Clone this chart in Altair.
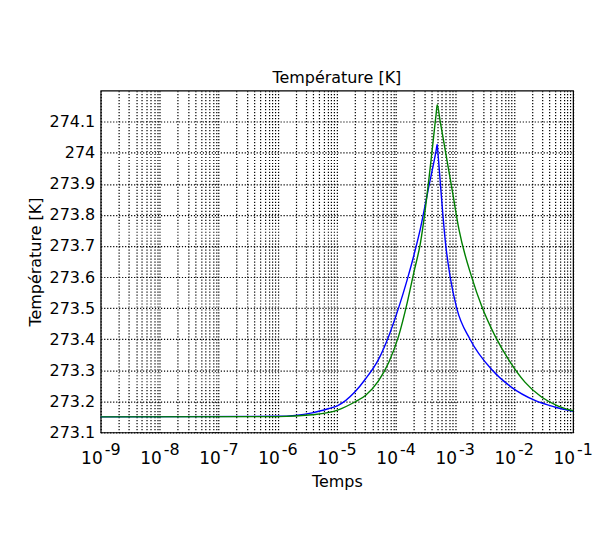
import altair as alt
import pandas as pd

# ---- data ----
blue_t = [1e-9, 1e-6, 3.83e-6, 7.3e-6, 1.05e-5, 2.01e-5, 3.05e-5, 5.1e-5, 7.55e-5, 1.11e-4,
          1.55e-4, 2.0e-4, 2.59e-4, 3.55e-4, 4.8e-4, 5.0e-4, 5.1e-4, 7.0e-4, 8.3e-4,
          1.07e-3, 1.8e-3, 4.3e-3, 9.1e-3, 2.26e-2, 4.9e-2, 1e-1]
blue_T = [273.15, 273.152, 273.163, 273.177, 273.187, 273.23, 273.272, 273.336, 273.41, 273.501,
          273.591, 273.668, 273.755, 273.885, 274.008, 274.027, 274.008, 273.7, 273.6,
          273.5, 273.4, 273.3, 273.245, 273.203, 273.182, 273.168]

green_t = [1e-9, 1e-6, 3.8e-6, 1e-5, 2.01e-5, 3.05e-5, 5.1e-5, 7.55e-5, 1.11e-4, 1.55e-4,
           2.0e-4, 2.59e-4, 4.8e-4, 5.0e-4, 5.6e-4, 7.0e-4, 9.0e-4, 1.175e-3, 1.92e-3,
           2.84e-3, 4.79e-3, 8.0e-3, 1.53e-2, 2.92e-2, 5.6e-2, 1e-1]
green_T = [273.15, 273.151, 273.157, 273.171, 273.198, 273.219, 273.267, 273.325, 273.41, 273.517,
           273.613, 273.708, 274.125, 274.155, 274.103, 273.997, 273.878, 273.751, 273.6,
           273.506, 273.41, 273.336, 273.262, 273.214, 273.185, 273.17]

series_names = ["blue", "green"]
series_colors = ["#0000ff", "#008000"]

decade_exponents = [-9, -8, -7, -6, -5, -4, -3, -2, -1]
minor_factors = [2, 3, 4, 5, 6, 7, 8, 9]
y_ticks = [273.1, 273.2, 273.3, 273.4, 273.5, 273.6, 273.7, 273.8, 273.9, 274.0, 274.1]

chart_title = "Température [K]"
x_title = "Temps"
y_title = "Température [K]"

FONT = "DejaVu Sans"
W, H = 474, 343

df = pd.DataFrame({
    "t": blue_t + green_t,
    "T": blue_T + green_T,
    "s": [series_names[0]] * len(blue_t) + [series_names[1]] * len(green_t),
})

grid_vals = [10.0 ** e for e in decade_exponents] + [
    f * 10.0 ** e for e in decade_exponents[:-1] for f in minor_factors
]

lab = pd.DataFrame({
    "t": [10.0 ** e for e in decade_exponents],
    "base": ["10"] * len(decade_exponents),
    "exp": [str(e) for e in decade_exponents],
})

xscale = alt.Scale(type="log", domain=[1e-9, 1e-1], nice=False)
yscale = alt.Scale(domain=[273.1, 274.2], zero=False, nice=False)

GRID = dict(grid=True, gridDash=[1.2, 1.8], gridColor="black", gridOpacity=1, gridWidth=1.2)

xaxis = alt.Axis(values=grid_vals, labels=False, ticks=False, domain=False,
                 title=x_title, titleFont=FONT, titleFontSize=16, titleFontWeight="normal",
                 titleColor="black", titleX=W / 2, titleY=54, titleBaseline="alphabetic",
                 titleAlign="center", **GRID)

lines = alt.Chart(df).mark_line(strokeWidth=1.4, interpolate="monotone").encode(
    x=alt.X("t:Q", scale=xscale, axis=xaxis),
    y=alt.Y("T:Q", scale=yscale,
            axis=alt.Axis(values=y_ticks, format=".1~f", ticks=False, tickSize=0,
                          domain=False, labelFont=FONT, labelFontSize=16, labelColor="black",
                          labelPadding=6, title=y_title, titleFont=FONT, titleFontSize=16,
                          titleFontWeight="normal", titleColor="black", titleX=-60, titleY=H / 2,
                          titleBaseline="alphabetic", titleAlign="center", titleAngle=270,
                          **GRID)),
    color=alt.Color("s:N", scale=alt.Scale(domain=series_names, range=series_colors), legend=None),
)

base_lab = alt.Chart(lab).mark_text(align="right", baseline="alphabetic", dx=2, fontSize=17,
                                    font=FONT, color="black").encode(
    x=alt.X("t:Q", scale=xscale, axis=xaxis),
    y=alt.value(H + 32),
    text="base:N",
)
exp_lab = alt.Chart(lab).mark_text(align="left", baseline="alphabetic", dx=4, fontSize=16,
                                   font=FONT, color="black").encode(
    x=alt.X("t:Q", scale=xscale, axis=xaxis),
    y=alt.value(H + 23),
    text="exp:N",
)

chart = alt.layer(lines, base_lab, exp_lab).properties(
    width=W,
    height=H,
    title=alt.TitleParams(chart_title, font=FONT, fontSize=16, fontWeight="normal",
                          color="black", anchor="middle", baseline="alphabetic", offset=-8,
                          frame="group"),
    autosize=alt.AutoSizeParams(type="none"),
    padding={"left": 93, "top": 82, "right": 20, "bottom": 110},
    background="white",
).configure_view(stroke="black", strokeWidth=1.2)

chart.save("out.html", embed_options={"renderer": "svg", "actions": False})
